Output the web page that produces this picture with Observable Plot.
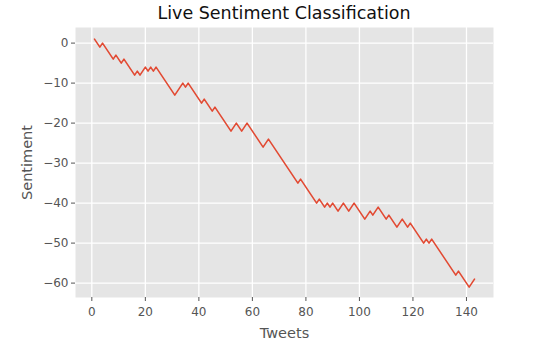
<!DOCTYPE html>
<html>
<head>
<meta charset="utf-8">
<script src="https://cdn.jsdelivr.net/npm/d3@7"></script>
<script src="https://cdn.jsdelivr.net/npm/@observablehq/plot@0.6"></script>
<style>
  html, body { margin: 0; padding: 0; background: #fff; }
  #title {
    width: 549px; height: 27px; box-sizing: border-box;
    padding-left: 75px; padding-right: 56px;
    text-align: center; white-space: nowrap;
    font-family: "DejaVu Sans", sans-serif; font-size: 17.5px; line-height: 27px;
    color: #111;
  }
  #chart svg [aria-label="x-axis label"],
  #chart svg [aria-label="y-axis label"] { font-size: 14.5px; }
</style>
</head>
<body>
<div id="title">Live Sentiment Classification</div>
<div id="chart"></div>
<script>
// Cumulative sentiment after each tweet (tweet 1 .. 143)
const sentiment = [
   1,  0, -1,  0, -1, -2, -3, -4, -3, -4,
  -5, -4, -5, -6, -7, -8, -7, -8, -7, -6,
  -7, -6, -7, -6, -7, -8, -9,-10,-11,-12,
 -13,-12,-11,-10,-11,-10,-11,-12,-13,-14,
 -15,-14,-15,-16,-17,-16,-17,-18,-19,-20,
 -21,-22,-21,-20,-21,-22,-21,-20,-21,-22,
 -23,-24,-25,-26,-25,-24,-25,-26,-27,-28,
 -29,-30,-31,-32,-33,-34,-35,-34,-35,-36,
 -37,-38,-39,-40,-39,-40,-41,-40,-41,-40,
 -41,-42,-41,-40,-41,-42,-41,-40,-41,-42,
 -43,-44,-43,-42,-43,-42,-41,-42,-43,-44,
 -43,-44,-45,-46,-45,-44,-45,-46,-45,-46,
 -47,-48,-49,-50,-49,-50,-49,-50,-51,-52,
 -53,-54,-55,-56,-57,-58,-57,-58,-59,-60,
 -61,-60,-59
];
const xTicks = [0, 20, 40, 60, 80, 100, 120, 140];
const yTicks = [-60, -50, -40, -30, -20, -10, 0];
const xDomain = [-6.1, 150.1];
const yDomain = [-63.6, 3.9];
const xLabel = "Tweets";
const yLabel = "Sentiment";

const data = sentiment.map((s, i) => ({tweet: i + 1, sentiment: s}));

const chart = Plot.plot({
  width: 549,
  height: 333,
  marginLeft: 75,
  marginRight: 56,
  marginTop: 0,
  marginBottom: 63,
  style: {fontFamily: '"DejaVu Sans", sans-serif', fontSize: "12px", background: "transparent", overflow: "visible"},
  x: {domain: xDomain},
  y: {domain: yDomain},
  marks: [
    Plot.frame({fill: "#E5E5E5", stroke: "none"}),
    Plot.gridX(xTicks, {stroke: "white", strokeOpacity: 1, strokeWidth: 1.3}),
    Plot.gridY(yTicks, {stroke: "white", strokeOpacity: 1, strokeWidth: 1.3}),
    Plot.line(data, {x: "tweet", y: "sentiment", stroke: "#E24A33", strokeWidth: 1.6}),
    Plot.axisX(xTicks, {label: xLabel, labelAnchor: "center", labelArrow: "none", labelOffset: 40, tickSize: 4, tickPadding: 6, color: "#555"}),
    Plot.axisY(yTicks, {label: yLabel, labelAnchor: "center", labelArrow: "none", labelOffset: 54, tickSize: 4, tickPadding: 3, color: "#555"})
  ]
});
document.getElementById("chart").appendChild(chart);
</script>
</body>
</html>
